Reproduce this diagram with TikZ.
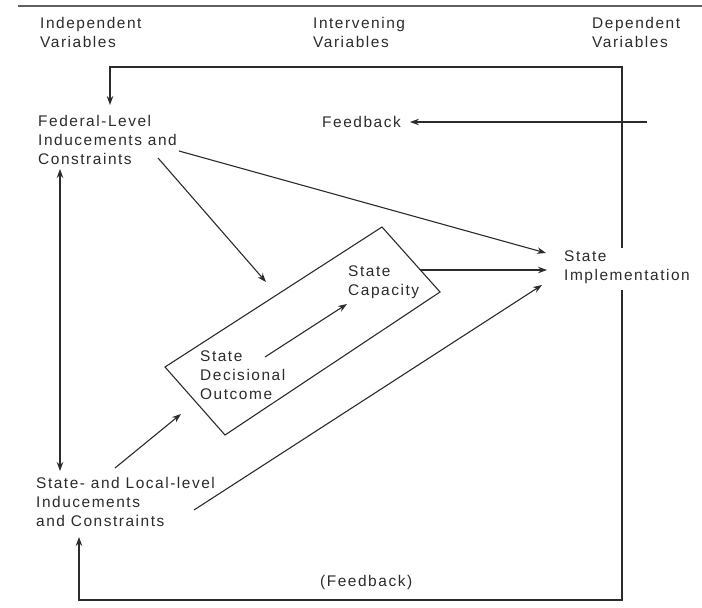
\documentclass[tikz,border=0pt]{standalone}
\usepackage{fontspec}
\setmainfont{Liberation Sans}[LetterSpace=10]
\usetikzlibrary{arrows.meta}
\definecolor{ink}{HTML}{2B2B2B}
\begin{document}
\begin{tikzpicture}[x=1bp,y=-1bp,
  lbl/.style={inner sep=0pt, anchor=north west, align=left, text=ink,
              font=\fontsize{15.5}{19}\selectfont},
  conn/.style={draw=ink, line width=1.1bp},
  arr/.style={conn, -{Stealth[length=9bp,width=6.5bp]}},
  dblarr/.style={conn, {Stealth[length=9bp,width=6.5bp]}-{Stealth[length=9bp,width=6.5bp]}},
]
\useasboundingbox (0,0) rectangle (702,608);

% rule across the top
\draw[draw=ink!75, line width=1.1bp] (18,6) coordinate (ruleL) -- (702,6) coordinate (ruleR);

% column headings
\node[lbl] (hind) at (40,17)  {Independent\\Variables};
\node[lbl] (hint) at (313,17) {Intervening\\Variables};
\node[lbl] (hdep) at (592,17) {Dependent\\Variables};

% variables
\node[lbl] (fed) at (38,115)  {Federal-Level\\Inducements and\\Constraints};
\node[lbl] (sl)  at (36,477)  {State- and Local-level\\Inducements\\and Constraints};
\node[lbl] (sc)  at (348,266) {State\\Capacity};
\node[lbl] (sdo) at (200,351) {State\\Decisional\\Outcome};
\node[lbl] (si)  at (564,251) {State\\Implementation};
\node[lbl] (fb)  at (322,116) {Feedback};
\node[lbl, anchor=west] (fbb) at (320,582) {(Feedback)};

% slanted frame round the intervening variables
\draw[conn, line join=miter] (165,367) coordinate (boxL) -- (382,227) coordinate (boxT)
  -- (440,292) coordinate (boxR) -- (225,435) coordinate (boxB) -- cycle;

% connector end points
\coordinate (loopTR) at (622,248);
\coordinate (loopTL) at (110,67);
\coordinate (fedIn)  at (110,105);
\coordinate (loopBR) at (622,290);
\coordinate (loopBL) at (79,600);
\coordinate (slIn)   at (79,537);
\coordinate (fbStart) at (647,122);
\coordinate (fbEnd)   at (410,122);
\coordinate (fedBot) at (60,169);
\coordinate (slTop)  at (60,471);
\coordinate (fedA) at (158,158);
\coordinate (boxIn) at (266,282);
\coordinate (fedB) at (179,151);
\coordinate (siA) at (546,253);
\coordinate (boxOut) at (420,270);
\coordinate (siB) at (547,270);
\coordinate (sdoOut) at (265,357);
\coordinate (scIn) at (347,304);
\coordinate (slA) at (115,468);
\coordinate (boxIn2) at (181,414);
\coordinate (slB) at (194,510);
\coordinate (siC) at (542,285);

% feedback loops
\draw[arr] (loopTR) |- (loopTL) -- (fedIn);
\draw[arr] (loopBR) |- (loopBL) -- (slIn);
\draw[arr] (fbStart) -- (fbEnd);

% links between the variables
\draw[dblarr] (fedBot) -- (slTop);
\draw[arr] (fedA) -- (boxIn);
\draw[arr] (fedB) -- (siA);
\draw[arr] (boxOut) -- (siB);
\draw[arr] (sdoOut) -- (scIn);
\draw[arr] (slA) -- (boxIn2);
\draw[arr] (slB) -- (siC);
\end{tikzpicture}
\end{document}
